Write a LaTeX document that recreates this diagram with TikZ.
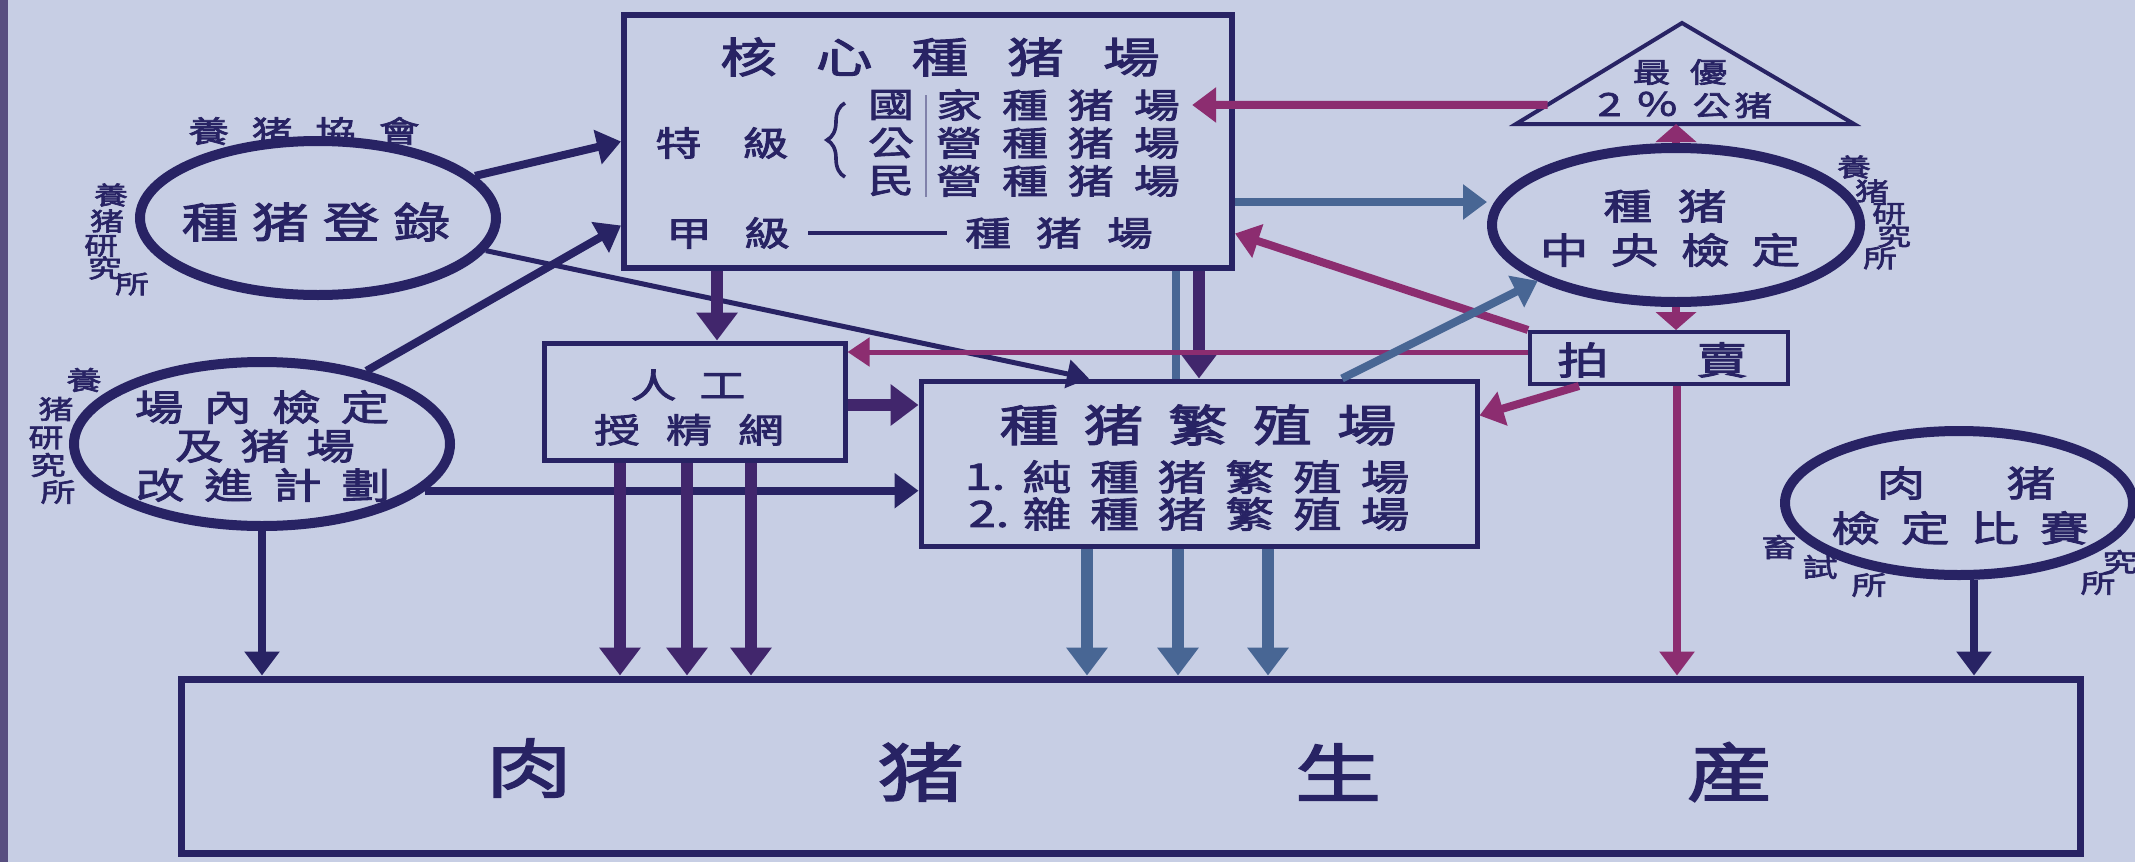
\documentclass[tikz,border=0pt]{standalone}
\usepackage{fontspec}
\newfontfamily\cjk{Noto Sans CJK TC}[FakeStretch=1.35,FakeBold=2.5]
\usetikzlibrary{arrows.meta,shapes.geometric,decorations.pathreplacing,calc}
\definecolor{bg}{RGB}{199,206,228}
\definecolor{navy}{RGB}{40,35,100}
\definecolor{dpur}{RGB}{65,38,108}
\definecolor{mag}{RGB}{140,45,112}
\definecolor{steel}{RGB}{72,102,148}
\definecolor{strip}{RGB}{88,78,128}
\newcommand\fs[1]{\fontsize{#1pt}{#1pt}\selectfont}
\def\spgapv{0pt}
\def\spacedfirst#1{#1\spacedaux}
\def\spacedaux#1{\ifx#1\relax\else\hspace{\spgapv}#1\expandafter\spacedaux\fi}
\newcommand\spaced[2]{\def\spgapv{#1}\spacedfirst#2\relax}
\tikzset{
  t/.style={inner sep=0pt,text=navy},
  box/.style={draw=navy,fill=bg,inner sep=0pt},
  oval/.style={ellipse,draw=navy,line width=5pt,fill=bg,inner sep=0pt},
  arrBig/.style={line width=6pt,-{Triangle[length=14pt,width=20pt]}},
  arrMed/.style={line width=4pt,-{Triangle[length=12pt,width=17pt]}},
  arrShort/.style={line width=4pt,-{Triangle[length=9pt,width=20pt]}},
  arrThin/.style={line width=2.5pt,-{Triangle[length=11pt,width=14pt]}},
}
\begin{document}
\begin{tikzpicture}[x=0.5pt,y=-0.5pt]
\useasboundingbox (0,0) rectangle (2135,862);
\fill[bg] (0,0) rectangle (2135,862);
\fill[strip] (0,0) rectangle (8,862);

% boxes
\node[box,line width=3pt,minimum width=304pt,minimum height=126.5pt] (core) at (928,141.5) {};
\node[box,line width=2.5pt,minimum width=150.5pt,minimum height=58.5pt] (ren) at (694.5,401.5) {};
\node[box,line width=2.5pt,minimum width=278pt,minimum height=82.5pt] (fan) at (1199,463.5) {};
\node[box,line width=2pt,minimum width=129pt,minimum height=26pt] (auc) at (1659,358) {};
\node[box,line width=3.5pt,minimum width=949.5pt,minimum height=87pt] (prod) at (1130.5,766) {};

% ovals
\node[oval,minimum width=178pt,minimum height=77pt] (reg) at (318,218) {};
\node[oval,minimum width=188pt,minimum height=82pt] (insp) at (262,444) {};
\node[oval,minimum width=184pt,minimum height=77pt] (cent) at (1676,225) {};
\node[oval,minimum width=174pt,minimum height=72pt] (meat) at (1959,503) {};

% triangle
\coordinate (tA) at (1682,23);
\coordinate (tL) at (1516,124);
\coordinate (tR) at (1854,124);
\coordinate (tB) at (1682,124);
\draw[navy,line width=2pt,fill=bg,line join=miter] (tA)--(tL)--(tR)--cycle;

% texts in core box
\node[t,font=\cjk\fs{21}] (ttl) at (940,57) {\spaced{19.5pt}{核心種猪場}};
\node[t,font=\cjk\fs{17}] (tj) at (722,143) {\spaced{20.5pt}{特級}};
\draw[navy,line width=1.8pt,decorate,decoration={brace,amplitude=9pt}] (845,177) -- (845,103);
\node[t,font=\cjk\fs{17}] (k1) at (891,105) {國};
\node[t,font=\cjk\fs{17}] (k2) at (891,143) {公};
\node[t,font=\cjk\fs{17}] (k3) at (891,181) {民};
\draw[navy!45!bg,line width=0.6pt] (926,95) -- (926,197);
\node[t,font=\cjk\fs{17}] (g1) at (1058,105) {\spaced{10pt}{家種猪場}};
\node[t,font=\cjk\fs{17}] (g2) at (1058,143) {\spaced{10pt}{營種猪場}};
\node[t,font=\cjk\fs{17}] (g3) at (1058,181) {\spaced{10pt}{營種猪場}};
\node[t,font=\cjk\fs{17}] (jia) at (728,233) {\spaced{16pt}{甲級}};
\node[t,font=\cjk\fs{17}] (jz) at (1059,233) {\spaced{12.5pt}{種猪場}};
\draw[navy,line width=1.8pt,shorten <=9pt,shorten >=9pt] (jia.east) -- (jz.west);

% triangle text
\node[t,font=\cjk\fs{14}] (best) at (1680,72) {\spaced{9.5pt}{最優}};
\node[t,font=\cjk\fs{16}] (pct) at (1685,105) {2\hspace{7pt}％\hspace{7pt}{\fs{14}公\hspace{2pt}猪}};

% central
\node[t,font=\cjk\fs{18}] (c1) at (1665,206) {\spaced{13pt}{種猪}};
\node[t,font=\cjk\fs{18}] (c2) at (1670,250) {\spaced{11pt}{中央檢定}};
\foreach \c/\x/\y [count=\i] in {養/1854/167,猪/1872/191,研/1889/214,究/1894/236,所/1880/258}
  \node[t,font=\cjk\fs{12.5}] (cl\i) at (\x,\y) {\c};

% auction
\node[t,font=\cjk\fs{19}] (a1) at (1583,360) {拍};
\node[t,font=\cjk\fs{19}] (a2) at (1722,360) {賣};

% AI box
\node[t,font=\cjk\fs{17}] (rn1) at (688,385) {\spaced{11.5pt}{人工}};
\node[t,font=\cjk\fs{17}] (rn2) at (689,430) {\spaced{13pt}{授精網}};

% breeding farms
\node[t,font=\cjk\fs{22}] (fn1) at (1198,425) {\spaced{12.5pt}{種猪繁殖場}};
\node[t,font=\cjk\fs{18}] (fn2n) at (985,477) {1.};
\node[t,font=\cjk\fs{18}] (fn2) at (1216,477) {\spaced{9.5pt}{純種猪繁殖場}};
\node[t,font=\cjk\fs{18}] (fn3n) at (989,514) {2.};
\node[t,font=\cjk\fs{18}] (fn3) at (1216,514) {\spaced{9.5pt}{雜種猪繁殖場}};

% registration
\node[t,font=\cjk\fs{21}] (rg) at (316,222) {\spaced{7pt}{種猪登錄}};
\node[t,font=\cjk\fs{15}] (assoc) at (304,131) {\spaced{11.5pt}{養猪協會}};
\foreach \c/\x/\y [count=\i] in {養/111/195,猪/107/221,研/101/246,究/105/268,所/132/284}
  \node[t,font=\cjk\fs{12.5}] (rl\i) at (\x,\y) {\c};

% in-farm test
\node[t,font=\cjk\fs{18}] (ip1) at (262,407) {\spaced{10pt}{場內檢定}};
\node[t,font=\cjk\fs{18}] (ip2) at (265,446) {\spaced{8.5pt}{及猪場}};
\node[t,font=\cjk\fs{18}] (ip3) at (263,485) {\spaced{10pt}{改進計劃}};
\foreach \c/\x/\y [count=\i] in {養/84/380,猪/56/409,研/46/438,究/48/465,所/58/492}
  \node[t,font=\cjk\fs{13}] (il\i) at (\x,\y) {\c};

% meat pig contest
\node[t,font=\cjk\fs{18}] (m1) at (1901,483) {肉};
\node[t,font=\cjk\fs{18}] (m2) at (2031,483) {猪};
\node[t,font=\cjk\fs{18}] (m3) at (1960,528) {\spaced{10.5pt}{檢定比賽}};
\foreach \c/\x/\y [count=\i] in {畜/1779/547,試/1820/567,所/1869/585,所/2098/583,究/2120/562}
  \node[t,font=\cjk\fs{13}] (ml\i) at (\x,\y) {\c};

% production
\node[t,font=\cjk\fs{32}] (p1) at (529,768) {肉};
\node[t,font=\cjk\fs{32}] (p2) at (921,772) {猪};
\node[t,font=\cjk\fs{32}] (p3) at (1338,772) {生};
\node[t,font=\cjk\fs{32}] (p4) at (1730,772) {産};

% coordinates for connectors
\coordinate (xk) at (717,0);
\coordinate (xs) at (1176,0);
\coordinate (xp) at (1199,0);
\coordinate (y1) at (0,405);
\coordinate (yc) at (0,202);
\coordinate (r1) at (620,0);
\coordinate (r2) at (687,0);
\coordinate (r3) at (751,0);
\coordinate (f1) at (1087,0);
\coordinate (f2) at (1178,0);
\coordinate (f3) at (1268,0);
\coordinate (xa) at (1677,0);
\coordinate (xm) at (1974,0);
\coordinate (ay) at ([yshift=3pt]auc.west);

% connectors
\draw[arrMed,navy] (reg.15) -- (core.west);
\draw[arrMed,navy] (insp.35) -- ([yshift=-42pt]core.west);
\draw[arrThin,navy] (reg.-11) -- ([xshift=-55pt]fan.north);
\draw[arrBig,dpur] (core.south -| xk) -- (ren.north -| xk);
\draw[steel,line width=4pt] (core.south -| xs) -- (fan.north -| xs);
\draw[arrBig,dpur] (core.south -| xp) -- (fan.north -| xp);
\draw[arrBig,dpur] (ren.east |- y1) -- (fan.west |- y1);
\draw[arrMed,navy] (insp.-16.5) -- (fan.west |- insp.-16.5);
\draw[arrMed,navy] (insp.south) -- (prod.north -| insp.south);
\foreach \r in {r1,r2,r3} \draw[arrBig,dpur] (ren.south -| \r) -- (prod.north -| \r);
\foreach \f in {f1,f2,f3} \draw[arrBig,steel] (fan.south -| \f) -- (prod.north -| \f);
\draw[arrMed,mag] (auc.south -| xa) -- (prod.north -| xa);
\draw[arrMed,navy] (meat.south -| xm) -- (prod.north -| xm);
\draw[arrMed,steel] (core.east |- yc) -- (cent.west |- yc);
\draw[arrMed,mag] ($(tA)!0.81!(tL)$) -- ([xshift=6pt]g1.east);
\draw[arrShort,mag] (cent.north) -- (tB -| cent.north);
\draw[arrShort,mag] (cent.south) -- (auc.north -| cent.south);
\draw[arrMed,mag] (auc.north west) -- ([yshift=-46pt]core.east);
\draw[arrThin,mag] (ay) -- (ren.east |- ay);
\draw[arrMed,mag] ([xshift=-40pt]auc.south) -- ([yshift=-18.5pt]fan.north east);
\draw[arrMed,steel] ([xshift=71.5pt]fan.north) -- (cent.202);
\end{tikzpicture}
\end{document}
